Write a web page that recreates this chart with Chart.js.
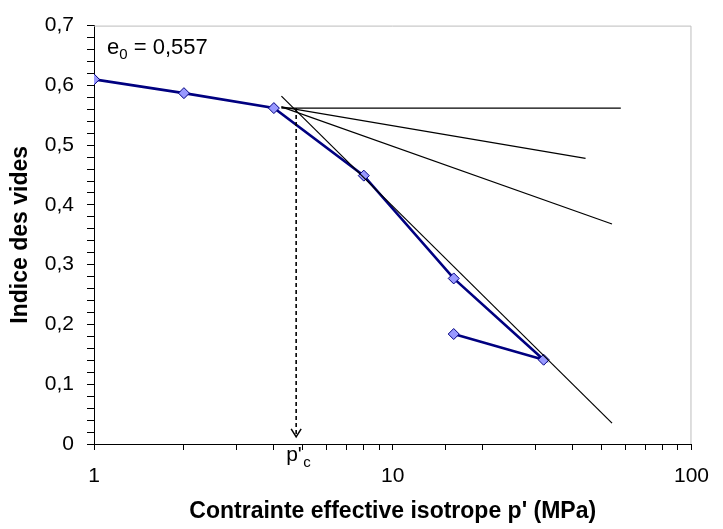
<!DOCTYPE html>
<html>
<head>
<meta charset="utf-8">
<script src="https://cdn.jsdelivr.net/npm/chart.js@4/dist/chart.umd.min.js"></script>
<style>
  html, body { margin: 0; padding: 0; background: #ffffff; }
  #wrap { width: 723px; height: 529px; position: relative; }
</style>
</head>
<body>
<div id="wrap"><canvas id="c"></canvas></div>
<script>
// ---- Data ----
const pressures   = [1, 2, 4, 8, 16, 32, 16];           // p' (MPa)
const voidRatios  = [0.61, 0.587, 0.562, 0.449, 0.277, 0.141, 0.184];

// construction lines (start / end)
const horizX = [4.24, 58];   const horizY = [0.562, 0.562];
const tan1X  = [4.24, 44.2]; const tan1Y  = [0.564, 0.478];
const tan2X  = [4.24, 54.2]; const tan2Y  = [0.564, 0.368];
const slopeX = [4.24, 54.2]; const slopeY = [0.582, 0.035];
const pcX    = [4.75, 4.75]; const pcY    = [0.562, 0.012];

const xTickLabels = [1, 10, 100];
const e0Text = '0,557';

const pts = (xs, ys) => xs.map((x, i) => ({ x: x, y: ys[i] }));

const FONT = "'Liberation Sans', Arial, sans-serif";

const blackLine = (xs, ys) => ({
  data: pts(xs, ys), showLine: true, borderColor: '#000', borderWidth: 1.2,
  pointRadius: 0, pointHoverRadius: 0, fill: false, order: 1
});

const extras = {
  id: 'extras',
  afterDraw(chart) {
    const { ctx, chartArea: a, scales: { x, y } } = chart;
    ctx.save();
    // grey top/right frame
    ctx.strokeStyle = '#BDBDBD';
    ctx.lineWidth = 1;
    ctx.beginPath();
    ctx.moveTo(a.left, a.top + 0.5);
    ctx.lineTo(a.right - 0.5, a.top + 0.5);
    ctx.lineTo(a.right - 0.5, a.bottom);
    ctx.stroke();

    // arrow head at end of p'c dashed line
    const px = x.getPixelForValue(pcX[1]);
    const py = y.getPixelForValue(pcY[1]);
    ctx.strokeStyle = '#000';
    ctx.lineWidth = 1.5;
    ctx.setLineDash([]);
    ctx.beginPath();
    ctx.moveTo(px - 5, py - 8);
    ctx.lineTo(px, py);
    ctx.lineTo(px + 5, py - 8);
    ctx.stroke();

    // p'c label
    ctx.fillStyle = '#000';
    ctx.textBaseline = 'alphabetic';
    ctx.textAlign = 'left';
    ctx.font = '21px ' + FONT;
    ctx.fillText("p'", px - 10, a.bottom + 17);
    ctx.font = '15px ' + FONT;
    ctx.fillText('c', px + 7, a.bottom + 23);

    // e0 label
    let tx = a.left + 13, ty = a.top + 28;
    ctx.font = '22px ' + FONT;
    ctx.fillText('e', tx, ty);
    tx += ctx.measureText('e').width;
    ctx.font = '15px ' + FONT;
    ctx.fillText('0', tx, ty + 5);
    tx += ctx.measureText('0').width;
    ctx.font = '22px ' + FONT;
    ctx.fillText(' = ' + e0Text, tx, ty);
    ctx.restore();
  }
};

new Chart(document.getElementById('c'), {
  type: 'scatter',
  data: {
    datasets: [
      blackLine(horizX, horizY),
      blackLine(tan1X, tan1Y),
      blackLine(tan2X, tan2Y),
      blackLine(slopeX, slopeY),
      Object.assign(blackLine(pcX, pcY), { borderDash: [4, 3], borderWidth: 1.6 }),
      {
        data: pts(pressures, voidRatios), showLine: true,
        borderColor: '#000080', borderWidth: 2.6,
        pointStyle: 'rectRot', pointRadius: 5.5, pointHoverRadius: 5.5,
        pointBackgroundColor: '#9999FF', pointBorderColor: '#000080', pointBorderWidth: 1,
        fill: false, order: 2
      }
    ]
  },
  options: {
    responsive: true, maintainAspectRatio: false, animation: false,
    layout: { padding: { left: 0, top: 22, right: 20, bottom: 0 } },
    plugins: { legend: { display: false }, tooltip: { enabled: false } },
    scales: {
      x: {
        type: 'logarithmic', min: 1, max: 100,
        afterFit(s) { s.height = 85; },
        grid: { display: true, drawOnChartArea: false, drawTicks: true, tickLength: 6, color: '#000' },
        border: { display: true, color: '#000', width: 1 },
        ticks: {
          autoSkip: false, maxRotation: 0, padding: 14, color: '#000',
          font: { family: FONT, size: 21 },
          callback: (v) => xTickLabels.includes(v) ? String(v) : ''
        },
        title: {
          display: true, text: "Contrainte effective isotrope p' (MPa)", color: '#000',
          font: { family: FONT, size: 23, weight: 'bold' }, padding: { top: 0, bottom: 4 }
        }
      },
      y: {
        type: 'linear', min: 0, max: 0.7,
        afterFit(s) { s.width = 94; },
        grid: { display: true, drawOnChartArea: false, drawTicks: true, tickLength: 7, color: '#000' },
        border: { display: true, color: '#000', width: 1 },
        ticks: {
          stepSize: 0.02, autoSkip: false, padding: 13, color: '#000',
          font: { family: FONT, size: 21 },
          callback: (v) => {
            const t = Math.round(v * 100);
            if (t % 10 !== 0) return '';
            return t === 0 ? '0' : (t / 100).toFixed(1).replace('.', ',');
          }
        },
        title: {
          display: true, text: 'Indice des vides', color: '#000',
          font: { family: FONT, size: 23, weight: 'bold' }, padding: { top: 7, bottom: 0 }
        }
      }
    }
  },
  plugins: [extras]
});
</script>
</body>
</html>
